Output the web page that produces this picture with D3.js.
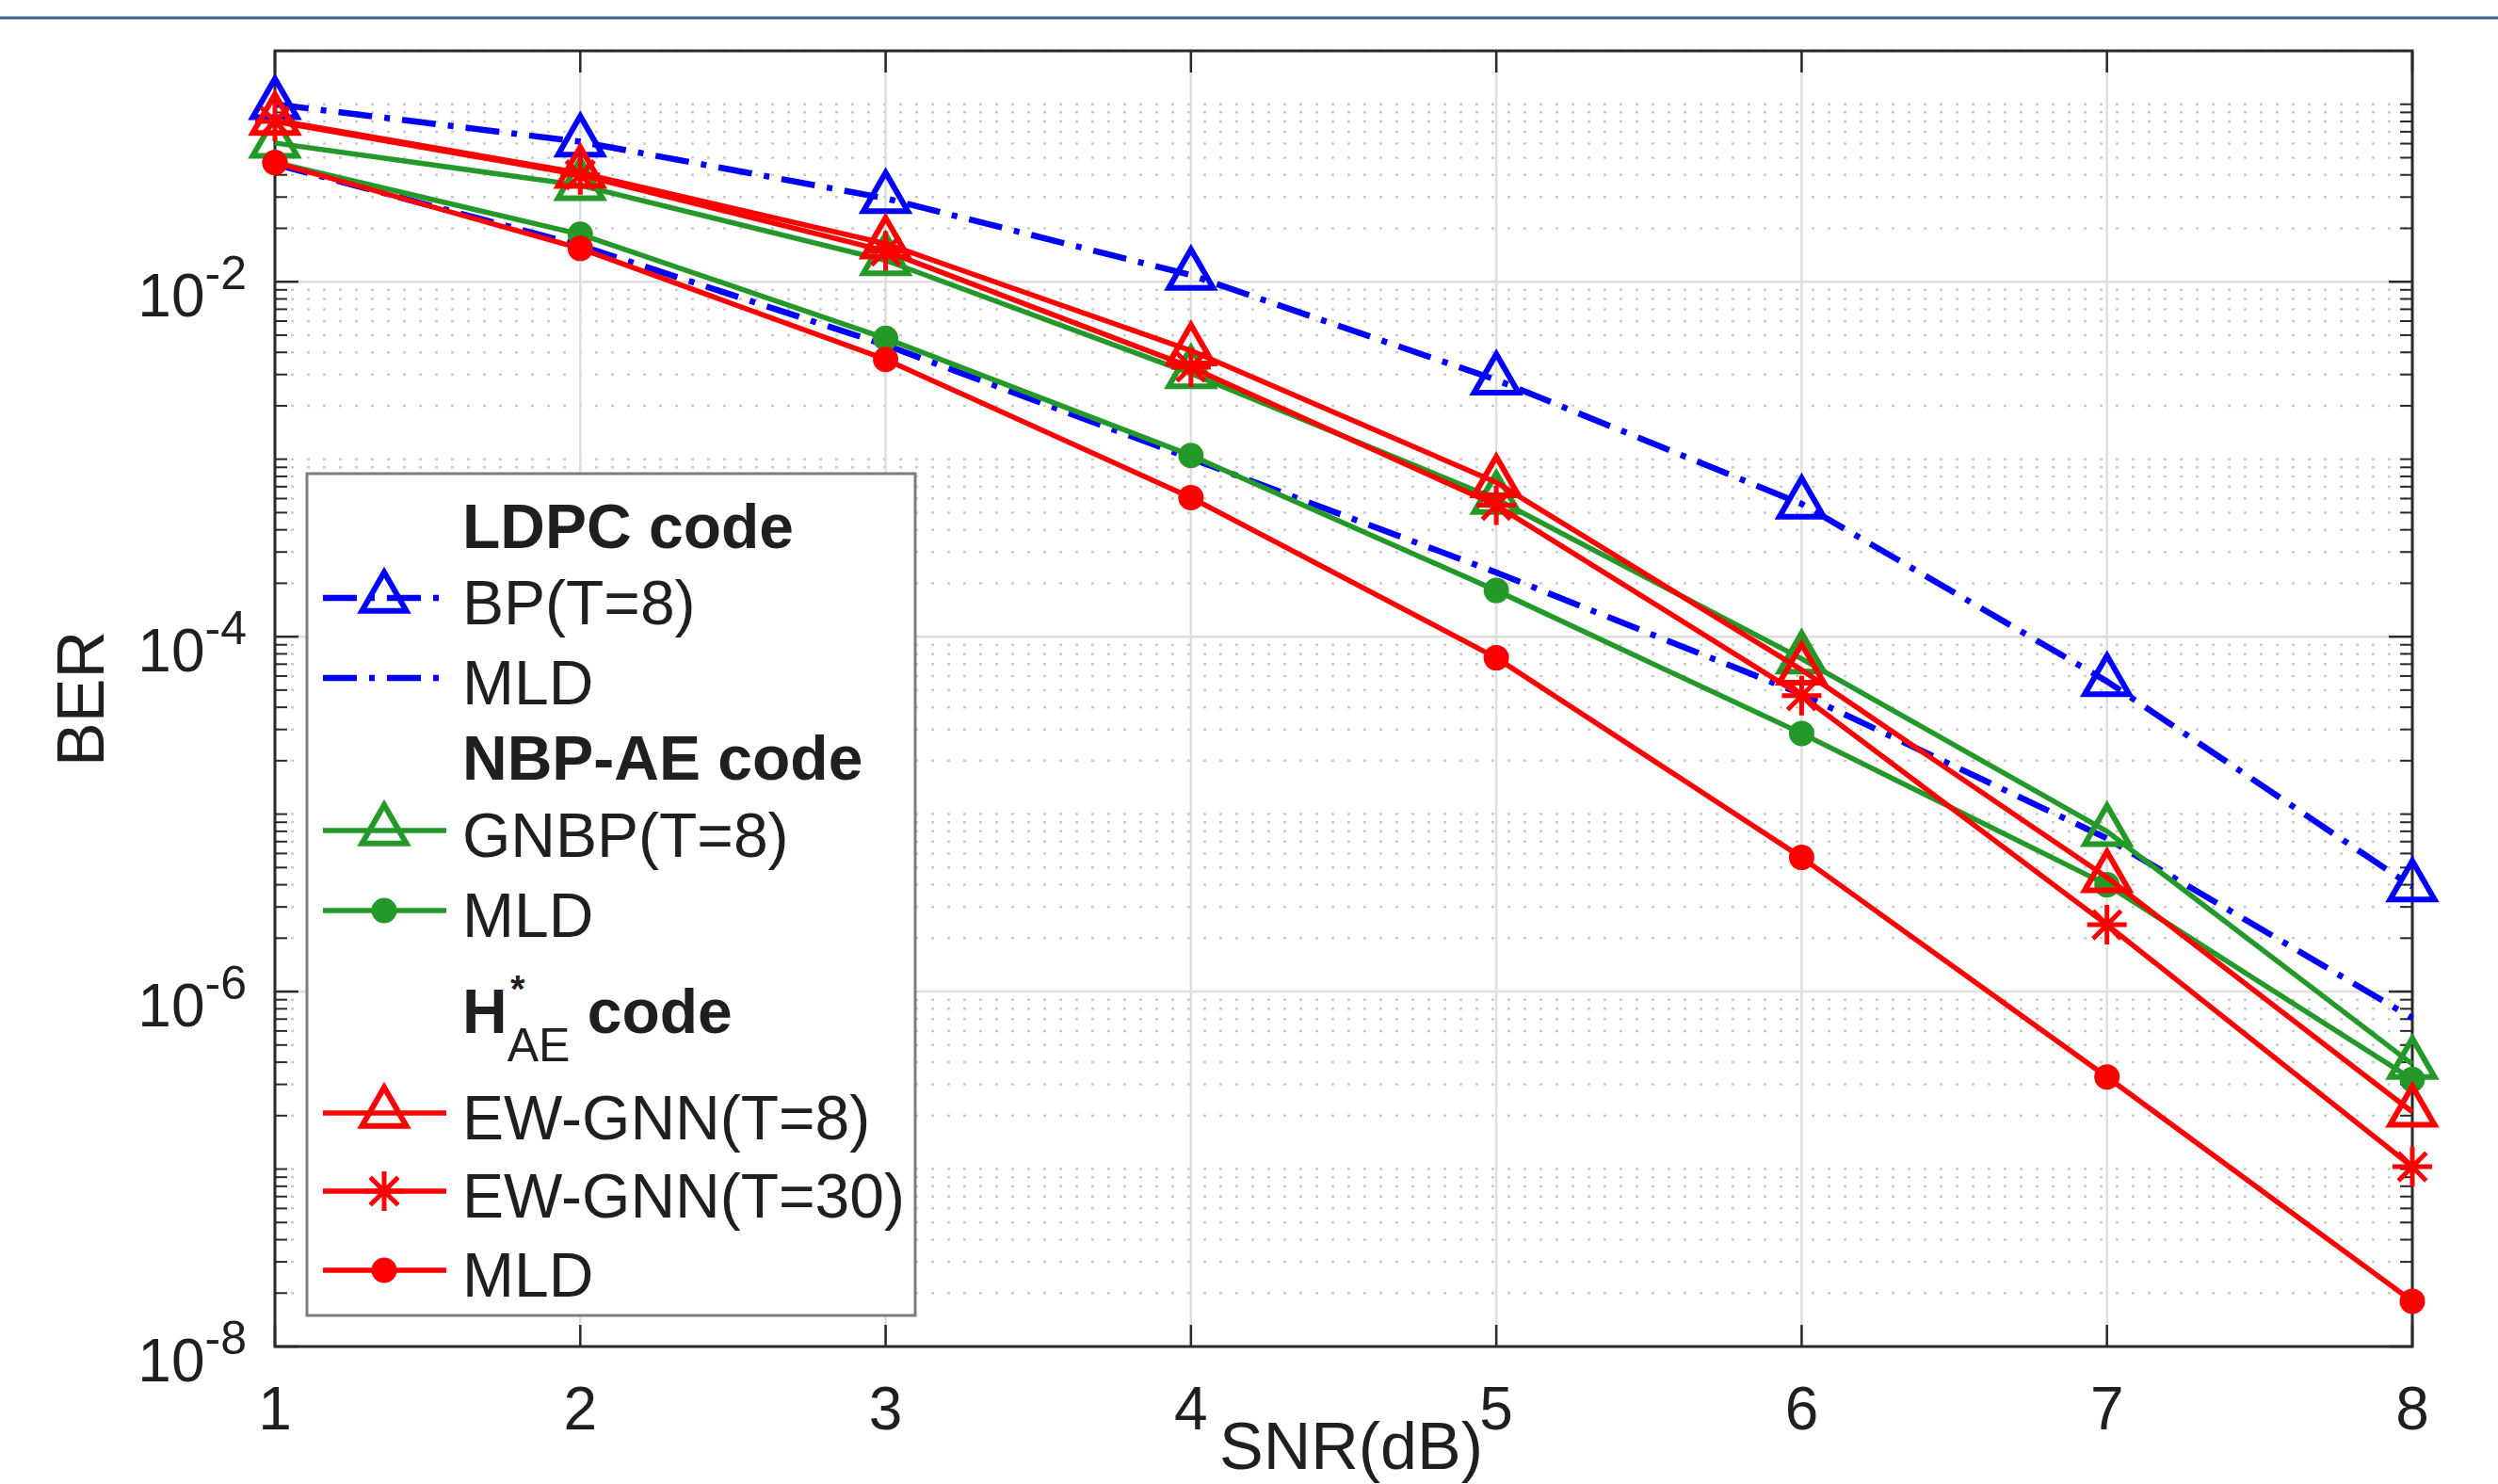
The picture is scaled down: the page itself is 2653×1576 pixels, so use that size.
<!DOCTYPE html>
<html>
<head>
<meta charset="utf-8">
<title>BER vs SNR</title>
<script src="https://cdn.jsdelivr.net/npm/d3@7"></script>
<style>
  html, body { margin: 0; padding: 0; background: #fff; }
  svg { display: block; }
  text { font-family: 'Liberation Sans', Arial, Helvetica, sans-serif; fill: #1f1f1f; }
</style>
</head>
<body>
<svg id="chart" width="2653" height="1576"></svg>
<script>
(function () {
  'use strict';

  // ---- Data ----
  const snrDb = [1, 2, 3, 4, 5, 6, 7, 8];

  // LDPC code
  const ldpcBp = [0.100, 0.0615, 0.0295, 0.0109, 0.0028, 5.6e-4, 5.6e-5, 3.9e-6];
  const ldpcMld = [0.046, 0.0160, 0.0044, 0.00101, 2.3e-4, 4.75e-5, 7.3e-6, 7.1e-7];

  // NBP-AE code
  const nbpGnbp = [0.0605, 0.0349, 0.0132, 0.00304, 5.96e-4, 7.5e-5, 8.0e-6, 3.9e-7];
  const nbpMld = [0.047, 0.0185, 0.0048, 0.00105, 1.82e-4, 2.85e-5, 4.0e-6, 3.2e-7];

  // H*_AE code
  const haeEwT8 = [0.0814, 0.0410, 0.0164, 0.00409, 7.4e-4, 6.5e-5, 4.4e-6, 2.1e-7];
  const haeEwT30 = [0.0800, 0.0400, 0.0149, 0.00330, 5.5e-4, 4.65e-5, 2.38e-6, 1.03e-7];
  const haeMld = [0.0469, 0.0154, 0.00365, 6.08e-4, 7.6e-5, 5.7e-6, 3.3e-7, 1.8e-8];

  const xTickLabels = ['1', '2', '3', '4', '5', '6', '7', '8'];
  const yTickExponents = [-8, -6, -4, -2];

  // ---- Styles ----
  const BLUE = '#0000ff';
  const GREEN = '#24992a';
  const RED = '#ff0000';
  const DASHDOT = '36,13,6,13';

  const series = [
    { name: 'BP(T=8)', values: ldpcBp, color: BLUE, dash: DASHDOT, width: 6.5, marker: 'triangle' },
    { name: 'MLD', values: ldpcMld, color: BLUE, dash: DASHDOT, width: 6.5, marker: null },
    { name: 'GNBP(T=8)', values: nbpGnbp, color: GREEN, dash: null, width: 5.5, marker: 'triangle' },
    { name: 'MLD', values: nbpMld, color: GREEN, dash: null, width: 5.5, marker: 'dot' },
    { name: 'EW-GNN(T=8)', values: haeEwT8, color: RED, dash: null, width: 5.5, marker: 'triangle' },
    { name: 'EW-GNN(T=30)', values: haeEwT30, color: RED, dash: null, width: 5.5, marker: 'asterisk' },
    { name: 'MLD', values: haeMld, color: RED, dash: null, width: 5.5, marker: 'dot' }
  ];

  const svg = d3.select('#chart');

  const left = 292, right = 2562, top = 54, bottom = 1430;

  const x = d3.scaleLinear().domain([1, 8]).range([left, right]);
  const y = d3.scaleLog().domain([1e-8, 0.2]).range([bottom, top]);

  // ---- Marker shapes ----
  const symTriangle = {
    draw: function (ctx, h) {
      var w = h * 1.15;
      ctx.moveTo(0, (-2 * h) / 3);
      ctx.lineTo(w / 2, h / 3);
      ctx.lineTo(-w / 2, h / 3);
      ctx.closePath();
    }
  };
  const symAsterisk = {
    draw: function (ctx, r) {
      var d = r * 0.7071;
      ctx.moveTo(-r, 0); ctx.lineTo(r, 0);
      ctx.moveTo(0, -r); ctx.lineTo(0, r);
      ctx.moveTo(-d, -d); ctx.lineTo(d, d);
      ctx.moveTo(-d, d); ctx.lineTo(d, -d);
    }
  };

  function markerPath(kind) {
    if (kind === 'triangle') return d3.symbol().type(symTriangle).size(41)();
    if (kind === 'asterisk') return d3.symbol().type(symAsterisk).size(21)();
    return d3.symbol().type(d3.symbolCircle).size(Math.PI * 13.5 * 13.5)();
  }

  function styleMarker(sel, s) {
    if (s.marker === 'dot') {
      sel.attr('fill', s.color).attr('stroke', 'none');
    } else {
      sel.attr('fill', 'none')
        .attr('stroke', s.color)
        .attr('stroke-width', s.marker === 'asterisk' ? 5 : 6)
        .attr('stroke-linejoin', 'miter');
    }
  }

  // ---- Top rule ----
  svg.append('line')
    .attr('x1', 0).attr('x2', 2653)
    .attr('y1', 19).attr('y2', 19)
    .attr('stroke', '#3d5f95')
    .attr('stroke-width', 3);

  // ---- Grid ----
  const minorVals = [];
  const majorVals = yTickExponents.map(function (e) { return Math.pow(10, e); });
  for (var e = -8; e <= -1; e++) {
    for (var m = 1; m <= 9; m++) {
      var v = m * Math.pow(10, e);
      if (v > 0.2 + 1e-12) continue;
      if (m === 1 && yTickExponents.indexOf(e) >= 0) continue;
      minorVals.push(v);
    }
  }

  const grid = svg.append('g').attr('class', 'grid');

  grid.selectAll('line.minor')
    .data(minorVals)
    .enter()
    .append('line')
    .attr('class', 'minor')
    .attr('x1', left).attr('x2', right)
    .attr('y1', function (d) { return y(d); })
    .attr('y2', function (d) { return y(d); })
    .attr('stroke', '#cbcbcb')
    .attr('stroke-width', 2.5)
    .attr('stroke-dasharray', '3,14');

  grid.selectAll('line.hmajor')
    .data(majorVals)
    .enter()
    .append('line')
    .attr('class', 'hmajor')
    .attr('x1', left).attr('x2', right)
    .attr('y1', function (d) { return y(d); })
    .attr('y2', function (d) { return y(d); })
    .attr('stroke', '#dedede')
    .attr('stroke-width', 2.5);

  grid.selectAll('line.vmajor')
    .data(snrDb)
    .enter()
    .append('line')
    .attr('class', 'vmajor')
    .attr('x1', function (d) { return x(d); })
    .attr('x2', function (d) { return x(d); })
    .attr('y1', top).attr('y2', bottom)
    .attr('stroke', '#dedede')
    .attr('stroke-width', 2.5);

  // ---- Axes box and ticks ----
  const axes = svg.append('g').attr('class', 'axes');
  const AXC = '#2a2a2a';

  axes.append('rect')
    .attr('x', left).attr('y', top)
    .attr('width', right - left).attr('height', bottom - top)
    .attr('fill', 'none')
    .attr('stroke', AXC)
    .attr('stroke-width', 3);

  // x ticks, bottom and top, inward
  axes.selectAll('line.xt')
    .data(snrDb)
    .enter()
    .append('line')
    .attr('class', 'xt')
    .attr('x1', function (d) { return x(d); })
    .attr('x2', function (d) { return x(d); })
    .attr('y1', bottom).attr('y2', bottom - 23)
    .attr('stroke', AXC).attr('stroke-width', 2.5);
  axes.selectAll('line.xtt')
    .data(snrDb)
    .enter()
    .append('line')
    .attr('class', 'xtt')
    .attr('x1', function (d) { return x(d); })
    .attr('x2', function (d) { return x(d); })
    .attr('y1', top).attr('y2', top + 23)
    .attr('stroke', AXC).attr('stroke-width', 2.5);

  // y ticks, left and right, inward
  [[left, 1], [right, -1]].forEach(function (side) {
    axes.selectAll(null)
      .data(majorVals)
      .enter()
      .append('line')
      .attr('x1', side[0]).attr('x2', side[0] + side[1] * 25)
      .attr('y1', function (d) { return y(d); })
      .attr('y2', function (d) { return y(d); })
      .attr('stroke', AXC).attr('stroke-width', 2.5);
    axes.selectAll(null)
      .data(minorVals)
      .enter()
      .append('line')
      .attr('x1', side[0]).attr('x2', side[0] + side[1] * 13)
      .attr('y1', function (d) { return y(d); })
      .attr('y2', function (d) { return y(d); })
      .attr('stroke', AXC).attr('stroke-width', 2);
  });

  // ---- Series ----
  const line = d3.line()
    .x(function (d, i) { return x(snrDb[i]); })
    .y(function (d) { return y(d); });

  const plot = svg.append('g').attr('class', 'series');

  series.forEach(function (s) {
    const g = plot.append('g');
    g.append('path')
      .datum(s.values)
      .attr('d', line)
      .attr('fill', 'none')
      .attr('stroke', s.color)
      .attr('stroke-width', s.width)
      .attr('stroke-linejoin', 'round')
      .attr('stroke-dasharray', s.dash);

    if (s.marker) {
      const mk = g.selectAll('path.mk')
        .data(s.values)
        .enter()
        .append('path')
        .attr('class', 'mk')
        .attr('transform', function (d, i) {
          return 'translate(' + x(snrDb[i]) + ',' + y(d) + ')';
        })
        .attr('d', markerPath(s.marker));
      styleMarker(mk, s);
    }
  });

  // ---- Tick labels ----
  const labels = svg.append('g').attr('class', 'labels');

  labels.selectAll('text.xl')
    .data(xTickLabels)
    .enter()
    .append('text')
    .attr('class', 'xl')
    .attr('x', function (d, i) { return x(snrDb[i]); })
    .attr('y', 1518)
    .attr('text-anchor', 'middle')
    .attr('font-size', 64)
    .text(function (d) { return d; });

  const yl = labels.selectAll('text.yl')
    .data(yTickExponents)
    .enter()
    .append('text')
    .attr('class', 'yl')
    .attr('x', 262)
    .attr('y', function (d) { return y(Math.pow(10, d)) + 37; })
    .attr('text-anchor', 'end')
    .attr('font-size', 64);
  yl.append('tspan').text('10');
  yl.append('tspan')
    .attr('dy', -29)
    .attr('font-size', 50)
    .text(function (d) { return String(d); });

  // axis titles
  labels.append('text')
    .attr('x', 1435)
    .attr('y', 1560)
    .attr('text-anchor', 'middle')
    .attr('font-size', 70)
    .text('SNR(dB)');

  labels.append('text')
    .attr('transform', 'translate(110,' + (top + bottom) / 2 + ') rotate(-90)')
    .attr('text-anchor', 'middle')
    .attr('font-size', 70)
    .text('BER');

  // ---- Legend ----
  const legend = svg.append('g').attr('class', 'legend');

  legend.append('rect')
    .attr('x', 326).attr('y', 503)
    .attr('width', 646).attr('height', 894)
    .attr('fill', '#fff')
    .attr('stroke', '#7d7d7d')
    .attr('stroke-width', 3);

  const LX0 = 343, LX1 = 474, LXM = 408, TX = 491;

  const rows = [
    { title: 'LDPC code', base: 582 },
    { s: 0, base: 663 },
    { s: 1, base: 748 },
    { title: 'NBP-AE code', base: 828 },
    { s: 2, base: 910 },
    { s: 3, base: 995 },
    { title: 'HAE', base: 1097 },
    { s: 4, base: 1210 },
    { s: 5, base: 1293 },
    { s: 6, base: 1377 }
  ];

  rows.forEach(function (r) {
    if (r.title === 'HAE') {
      const t = legend.append('text')
        .attr('x', TX).attr('y', r.base)
        .attr('font-size', 66)
        .attr('font-weight', 'bold');
      t.append('tspan').text('H');
      t.append('tspan')
        .attr('dy', 30)
        .attr('font-size', 50)
        .attr('font-weight', 'normal')
        .text('AE');
      t.append('tspan')
        .attr('dy', -30)
        .text(' code');
      legend.append('text')
        .attr('x', 542).attr('y', 1064)
        .attr('font-size', 40)
        .attr('font-weight', 'bold')
        .text('*');
      return;
    }
    if (r.title) {
      legend.append('text')
        .attr('x', TX).attr('y', r.base)
        .attr('font-size', 66)
        .attr('font-weight', 'bold')
        .text(r.title);
      return;
    }
    const s = series[r.s];
    const ly = r.base - 28;
    legend.append('line')
      .attr('x1', LX0).attr('x2', LX1)
      .attr('y1', ly).attr('y2', ly)
      .attr('stroke', s.color)
      .attr('stroke-width', s.width)
      .attr('stroke-dasharray', s.dash);
    if (s.marker) {
      const mk = legend.append('path')
        .attr('transform', 'translate(' + LXM + ',' + ly + ')')
        .attr('d', markerPath(s.marker));
      styleMarker(mk, s);
    }
    legend.append('text')
      .attr('x', TX).attr('y', r.base)
      .attr('font-size', 66)
      .text(s.name);
  });
})();
</script>
</body>
</html>
